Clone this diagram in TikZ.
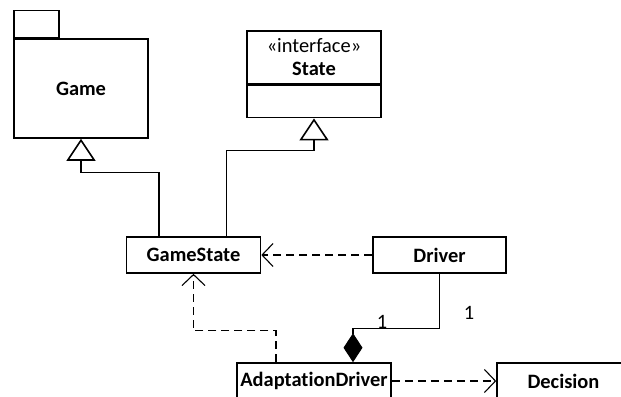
\documentclass[tikz,border=0pt]{standalone}
\usepackage{fontspec}
\setmainfont{Carlito}[Ligatures=NoCommon]
\usetikzlibrary{arrows.meta}
\usetikzlibrary{positioning}

\tikzset{
  classbox/.style={draw, line width=1.6bp, minimum width=134bp, minimum height=36bp,
    inner sep=0pt, font=\fontsize{20.5}{23}\selectfont\bfseries},
  inherit/.style={line width=1.1bp, -{Triangle[open, length=22bp, width=29bp, line width=1.6bp]}},
  depend/.style={line width=1.1bp, dash pattern=on 8bp off 5bp,
    -{Straight Barb[length=11bp, width=23bp, line width=1.1bp]}},
  compose/.style={line width=1.1bp, -{Diamond[length=29bp, width=19bp]}},
  mult/.style={font=\fontsize{20.5}{23}\selectfont, inner sep=0pt},
}

\begin{document}
\begin{tikzpicture}[x=1bp, y=-1bp]
  \useasboundingbox (0,0) rectangle (621,396);
  \clip (0,0) rectangle (621,396);

  % classes
  \node[classbox, minimum height=99bp] (game) at (81,88.5) {Game};
  \node[draw, line width=1.6bp, minimum width=45bp, minimum height=27bp, inner sep=0pt,
    anchor=south west] (gametab) at (game.north west) {};
  \node[classbox, minimum height=53bp, align=center, font=\fontsize{20.5}{23}\selectfont]
    (state) at (314,57.5) {«interface»\\\textbf{State}};
  \node[classbox, minimum height=32bp, anchor=north] (statebody) at (state.south) {};
  \node[classbox] (gamestate) at (193.5,255) {GameState};
  \node[classbox, minimum width=133bp] (driver) at (439.5,255) {Driver};
  \node[classbox, minimum width=154bp] (adapt) at (314,381) {AdaptationDriver};
  \node[classbox, minimum width=133bp] (decision) at (563.5,381) {Decision};

  % generalization
  \draw[inherit] ([xshift=-34.5bp]gamestate.north) |- ([yshift=-34bp]game.south) -- (game.south);
  \draw[inherit] ([xshift=33bp]gamestate.north) |- ([yshift=-32bp]statebody.south) -- (statebody.south);

  % dependencies
  \draw[depend] (driver.west) -- (gamestate.east);
  \draw[depend] ([xshift=-38bp]adapt.north) |- ([yshift=-57bp]gamestate.south) -- (gamestate.south);
  \draw[depend] (adapt.east) -- (decision.west);

  % composition
  \draw[compose] (driver.south) |- ([xshift=39bp, yshift=34bp]adapt.north) -- ([xshift=39bp]adapt.north);
  \node[mult] (multadapt) at (382,322) {1};
  \node[mult] (multdriver) at (469,313) {1};
\end{tikzpicture}
\end{document}
